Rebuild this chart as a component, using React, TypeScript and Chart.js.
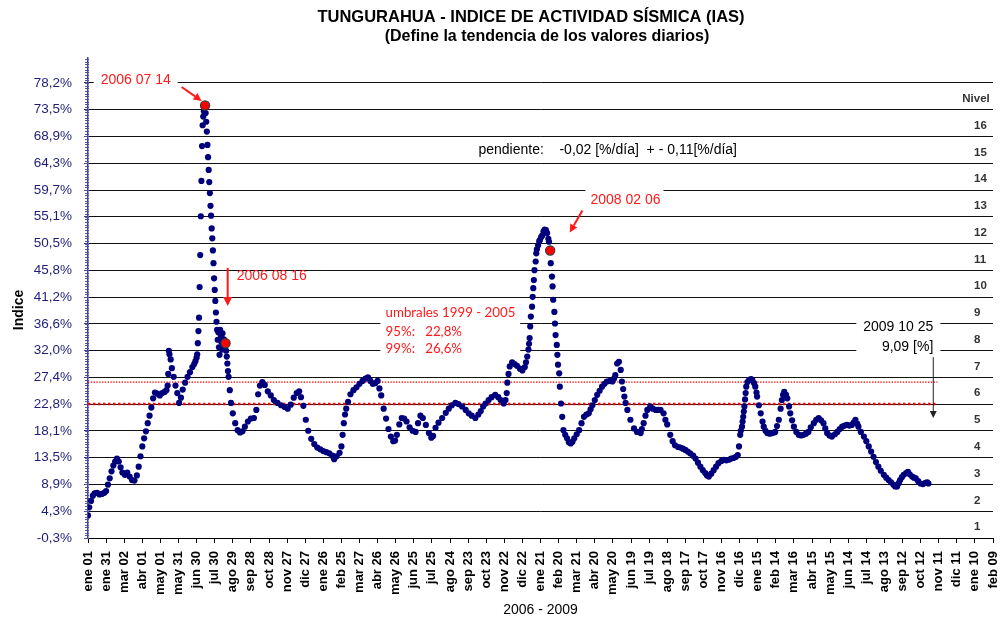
import React, { useEffect, useRef } from "react";
import { Chart, registerables } from "chart.js";

Chart.register(...registerables);

const FONT = "'Liberation Sans', Arial, sans-serif";

// ---------- axis labels ----------
const xTickLabels = [
  "ene 01", "ene 31", "mar 02", "abr 01", "may 01", "may 31", "jun 30", "jul 30", "ago 29", "sep 28",
  "oct 28", "nov 27", "dic 27", "ene 26", "feb 25", "mar 27", "abr 26", "may 26", "jun 25", "jul 25",
  "ago 24", "sep 23", "oct 23", "nov 22", "dic 22", "ene 21", "feb 20", "mar 21", "abr 20", "may 20",
  "jun 19", "jul 19", "ago 18", "sep 17", "oct 17", "nov 16", "dic 16", "ene 15", "feb 14", "mar 16",
  "abr 15", "may 15", "jun 14", "jul 14", "ago 13", "sep 12", "oct 12", "nov 11", "dic 11", "ene 10",
  "feb 09",
];
const xTickStepDays = 30;

const yTickLabels = [
  "-0,3%", "4,3%", "8,9%", "13,5%", "18,1%", "22,8%", "27,4%", "32,0%", "36,6%",
  "41,2%", "45,8%", "50,5%", "55,1%", "59,7%", "64,3%", "68,9%", "73,5%", "78,2%",
];
const yMin = -0.3;
const yTop = 78.2;
const yMax = 82.5;
const yStep = (yTop - yMin) / (yTickLabels.length - 1);

const levelLabels = ["1", "2", "3", "4", "5", "6", "7", "8", "9", "10", "11", "12", "13", "14", "15", "16"];

// ---------- IAS daily trend (day index from 2006-01-01, value %) ----------
const days2006 = [
  0, 2, 5, 8, 11, 15, 19, 23, 27, 30, 33, 36, 39, 42, 45, 48, 51, 54, 57, 61, 65, 69, 73, 77, 81, 84, 87, 90, 93, 96,
  99, 102, 105, 108, 111, 115, 119, 123, 127, 130, 132, 133, 134, 135, 137, 139, 142, 145, 148, 151, 154, 157, 161, 165,
  169, 173, 176, 178, 180, 181, 182, 183, 184, 185, 186, 187, 188, 189, 190, 191, 192, 193, 194, 195, 196, 197, 198, 199,
  200, 201, 202, 203, 204, 205, 206, 207, 208, 209, 210, 211, 212, 213, 214, 215, 216, 217, 218, 219, 220, 221, 222, 223,
  224, 225, 226, 228, 229, 230, 231, 232, 233, 235, 237, 240, 244, 248, 252, 256, 260, 265, 270, 275, 279, 282, 285, 289,
  293, 298, 303, 308, 314, 320, 326, 331, 336, 341, 346, 350, 353, 357, 361,
];
const values2006 = [
  3.6, 5.0, 6.1, 7.0, 7.4, 7.5, 7.2, 7.3, 7.5, 7.8, 8.9, 10.0, 11.2, 12.2, 12.9, 13.4, 12.9, 11.9, 11.0, 10.6, 11.0, 10.3, 9.7, 9.6, 10.5, 12.0, 13.8, 15.5, 16.9, 18.1,
  19.5, 20.8, 22.2, 23.8, 24.8, 24.6, 24.3, 24.7, 24.9, 25.2, 26.0, 28.0, 32.0, 31.4, 30.5, 29.0, 27.5, 26.0, 24.7, 23.0, 23.9, 25.3, 26.5, 27.5,
  28.3, 29.2, 29.7, 30.2, 30.8, 31.4, 33.3, 35.4, 37.7, 43.0, 48.5, 55.2, 61.3, 67.3, 70.9, 72.4, 73.3, 73.8, 74.3, 73.0, 71.5, 69.8, 67.5, 65.4,
  63.2, 61.1, 59.2, 57.0, 55.3, 53.1, 51.4, 49.3, 47.1, 44.5, 42.5, 40.6, 38.6, 37.0, 35.6, 33.9, 35.2, 32.6, 31.3, 35.6, 34.7, 33.5, 32.2, 35.0,
  34.0, 33.0, 33.9, 33.3, 32.0, 31.0, 29.8, 28.5, 27.5, 25.2, 23.0, 21.2, 19.5, 18.3, 17.9, 18.1, 18.9, 19.8, 20.3, 20.4, 21.8, 24.5, 26.0, 26.6,
  26.1, 25.0, 24.3, 23.5, 23.0, 22.6, 22.3, 22.0, 22.7, 23.9, 24.7, 25.0, 24.0, 22.5, 20.1,
];
const days2007 = [
  365, 370, 375, 380, 385, 390, 395, 400, 405, 408, 412, 417, 420, 422, 424, 426, 428, 431, 435, 440, 445, 450, 455, 460,
  464, 468, 472, 476, 480, 483, 486, 490, 494, 498, 502, 506, 509, 512, 516, 520, 524, 528, 533, 538, 543, 547, 551, 555,
  560, 565, 569, 572, 576, 581, 587, 593, 598, 603, 609, 614, 620, 626, 631, 636, 642, 647, 651, 655, 659, 664, 669, 675,
  680, 684, 689, 692, 694, 695, 697, 699, 703, 707, 711, 716, 720, 724, 726, 728,
];
const values2007 = [
  18.2, 16.8, 15.9, 15.3, 15.0, 14.7, 14.5, 14.3, 13.9, 13.3, 13.8, 14.4, 15.5, 17.5, 19.5, 21.0, 22.0, 23.2, 24.5, 25.2, 25.7, 26.3, 26.8, 27.2,
  27.4, 26.8, 26.3, 26.4, 26.8, 25.5, 24.3, 22.0, 20.3, 18.5, 17.2, 16.4, 16.5, 17.5, 19.3, 20.4, 20.3, 19.8, 18.8, 18.2, 18.0, 19.5, 20.8, 20.4,
  19.2, 17.8, 17.0, 17.3, 18.7, 19.6, 20.4, 21.3, 22.0, 22.6, 23.0, 22.8, 22.4, 21.8, 21.2, 20.8, 20.4, 21.0, 21.6, 22.4, 22.9, 23.5, 24.0, 24.4,
  24.0, 23.5, 22.9, 23.5, 24.7, 26.5, 28.0, 29.3, 30.0, 29.7, 29.4, 28.9, 28.6, 29.2, 30.0, 31.0,
];
const days2008 = [
  730, 731, 732, 733, 734, 736, 737, 738, 739, 740, 742, 743, 744, 746, 748, 749, 751, 753, 755, 757, 759, 761, 763, 764,
  766, 767, 769, 770, 771, 773, 774, 775, 777, 778, 779, 781, 782, 784, 786, 788, 791, 794, 797, 800, 803, 806, 810, 814,
  818, 822, 826, 830, 833, 836, 840, 844, 848, 852, 856, 860, 865, 869, 872, 874, 877, 880, 883, 885, 887, 889, 891, 894,
  899, 905, 910, 916, 918, 921, 924, 927, 932, 936, 941, 945, 949, 954, 957, 960, 965, 969, 973, 978, 982, 986, 990, 994,
  998, 1003, 1007, 1011, 1015, 1019, 1023, 1026, 1029, 1033, 1037, 1041, 1045, 1050, 1054, 1058, 1062, 1066, 1070, 1074,
  1077, 1079, 1081, 1082, 1084, 1085, 1086, 1087, 1088, 1089, 1090, 1091, 1093,
];
const values2008 = [
  32.2, 33.2, 34.2, 36.2, 37.9, 39.6, 41.3, 42.8, 44.2, 45.9, 47.4, 48.8, 49.5, 50.2, 50.9, 51.1, 51.6, 51.9, 52.6, 52.9, 52.8, 52.3, 51.3, 50.8,
  49.3, 47.1, 44.8, 43.1, 40.8, 38.7, 36.7, 34.7, 33.0, 31.3, 29.6, 28.1, 25.8, 22.9, 20.6, 18.3, 17.5, 16.9, 16.2, 16.0, 16.3, 16.9, 17.6, 18.3,
  19.5, 20.6, 21.0, 21.2, 21.9, 22.6, 23.5, 24.4, 25.1, 25.8, 26.3, 26.7, 26.8, 26.7, 27.2, 27.8, 29.8, 30.1, 28.7, 26.7, 25.4, 24.1, 23.0, 21.8,
  20.1, 18.6, 18.0, 17.8, 18.5, 19.5, 20.8, 21.8, 22.4, 22.0, 21.8, 21.8, 21.8, 21.2, 20.1, 19.3, 17.5, 16.4, 15.7, 15.4, 15.3, 15.1, 14.9, 14.6,
  14.3, 13.9, 13.4, 12.7, 12.0, 11.4, 10.9, 10.5, 10.3, 10.8, 11.4, 12.0, 12.6, 13.0, 13.2, 13.1, 13.2, 13.4, 13.5, 13.7,
  14.0, 15.5, 17.5, 18.2, 18.9, 19.8, 20.6, 21.5, 22.4, 23.6, 24.7, 25.8, 26.6,
];
const days2009 = [
  1096, 1099, 1101, 1104, 1106, 1108, 1109, 1112, 1115, 1118, 1120, 1123, 1126, 1130, 1134, 1137, 1139, 1142, 1145, 1148,
  1150, 1152, 1154, 1157, 1159, 1162, 1164, 1167, 1170, 1174, 1178, 1182, 1186, 1190, 1194, 1198, 1203, 1207, 1211, 1215,
  1219, 1222, 1225, 1229, 1233, 1238, 1242, 1246, 1250, 1254, 1258, 1262, 1266, 1269, 1272, 1275, 1277, 1281, 1286, 1290,
  1294, 1298, 1302, 1306, 1310, 1314, 1319, 1323, 1327, 1331, 1335, 1338, 1341, 1344, 1346, 1349, 1352, 1356, 1359, 1362,
  1366, 1369, 1372, 1376, 1380, 1384, 1388, 1391, 1393,
];
const values2009 = [
  27.0, 27.1, 27.0, 26.4, 25.8, 24.8, 24.1, 22.6, 21.2, 19.8, 18.9, 18.2, 17.8, 17.7, 17.8, 17.9, 18.0, 19.0, 20.1, 22.0,
  23.5, 24.4, 24.9, 24.4, 23.8, 22.4, 21.2, 20.0, 18.9, 18.0, 17.5, 17.4, 17.5, 17.7, 18.0, 18.8, 19.5, 20.1, 20.4, 20.0,
  19.5, 18.6, 17.8, 17.4, 17.2, 17.6, 18.0, 18.5, 18.9, 19.1, 19.2, 19.1, 19.2, 19.6, 20.1, 19.4, 18.9, 18.0, 17.2, 16.4,
  15.5, 14.6, 13.7, 12.8, 12.0, 11.3, 10.6, 10.1, 9.7, 9.3, 8.9, 8.6, 8.6, 9.2, 9.7, 10.2, 10.6, 10.9, 11.1, 10.7,
  10.3, 10.1, 10.0, 9.5, 9.1, 9.0, 9.2, 9.3, 9.1,
];

// highlighted dates: 2006 07 14, 2006 08 16, 2008 02 06
const highlightDays = [194, 228, 766];
const highlightValues = [74.3, 33.3, 49.3];

// thresholds 1999 - 2005
const thresholdDays = [0, 1408];
const umbral95 = 22.8;
const umbral99 = 26.6;

const allDays = [...days2006, ...days2007, ...days2008, ...days2009];
const allValues = [...values2006, ...values2007, ...values2008, ...values2009];

// ---------- annotation layout (in axis units: day, %) ----------
const RED = "#ff1a1a";
const whiteBoxes = [
  { d0: 9.4, d1: 148.6, v0: 80.2, v1: 77.1 },
  { d0: 824.5, d1: 953.8, v0: 59.9, v1: 56.1 },
  { d0: 484.6, d1: 716.4, v0: 39.9, v1: 30.9 },
  { d0: 1273.5, d1: 1412.7, v0: 38.0, v1: 31.1 },
];

function drawArrow(ctx: CanvasRenderingContext2D, x0: number, y0: number, x1: number, y1: number, color: string, width: number, head: number) {
  const ang = Math.atan2(y1 - y0, x1 - x0);
  const bx = x1 - Math.cos(ang) * head;
  const by = y1 - Math.sin(ang) * head;
  ctx.save();
  ctx.strokeStyle = color;
  ctx.fillStyle = color;
  ctx.lineWidth = width;
  ctx.beginPath();
  ctx.moveTo(x0, y0);
  ctx.lineTo(bx, by);
  ctx.stroke();
  const hw = head * 0.5;
  ctx.beginPath();
  ctx.moveTo(x1, y1);
  ctx.lineTo(bx + Math.sin(ang) * hw, by - Math.cos(ang) * hw);
  ctx.lineTo(bx - Math.sin(ang) * hw, by + Math.cos(ang) * hw);
  ctx.closePath();
  ctx.fill();
  ctx.restore();
}

const decorPlugin = {
  id: "iasDecor",
  beforeDatasetsDraw(chart: any) {
    const { ctx, chartArea } = chart;
    const xs = chart.scales.x;
    const ys = chart.scales.y;
    ctx.save();
    ctx.fillStyle = "#ffffff";
    for (const b of whiteBoxes) {
      const x0 = xs.getPixelForValue(b.d0);
      const x1 = xs.getPixelForValue(b.d1);
      const y0 = ys.getPixelForValue(b.v0);
      const y1 = ys.getPixelForValue(b.v1);
      ctx.fillRect(x0, y0, x1 - x0, y1 - y0);
    }
    // minor ticks on the value axis
    ctx.strokeStyle = "#5050b0";
    ctx.lineWidth = 1;
    const minor = yStep / 10;
    for (let i = 0; ; i++) {
      const v = yMin + i * minor;
      if (v > yMax + 1e-6) break;
      const py = Math.round(ys.getPixelForValue(v)) + 0.5;
      ctx.beginPath();
      ctx.moveTo(chartArea.left - 3, py);
      ctx.lineTo(chartArea.left + 1, py);
      ctx.stroke();
    }
    ctx.restore();
  },
  afterDatasetsDraw(chart: any) {
    const { ctx, chartArea } = chart;
    const xs = chart.scales.x;
    const ys = chart.scales.y;
    const X = (d: number) => xs.getPixelForValue(d);
    const Y = (v: number) => ys.getPixelForValue(v);
    ctx.save();
    ctx.textBaseline = "middle";

    // red date labels
    ctx.fillStyle = RED;
    ctx.textAlign = "left";
    ctx.font = `14px ${FONT}`;
    ctx.fillText("2006 07 14", X(21), Y(78.6));
    ctx.fillText("2006 08 16", X(246.4), Y(44.9));
    ctx.fillText("2008 02 06", X(832.8), Y(58.0));

    drawArrow(ctx, X(155.2), Y(77.5), X(188.4), Y(75.1), RED, 2, 8);
    drawArrow(ctx, X(231.5), Y(46.3), X(231.5), Y(39.7), RED, 2, 9);
    drawArrow(ctx, X(819.5), Y(56.2), X(798.5), Y(52.4), RED, 2, 8);

    // thresholds text
    ctx.font = `13.3px Lato, 'Open Sans', sans-serif`;
    ctx.fillText("umbrales 1999 - 2005", X(493.2), Y(38.5));
    ctx.fillText("95%:   22,8%", X(493.2), Y(35.3));
    ctx.fillText("99%:   26,6%", X(493.2), Y(32.4));

    // slope
    ctx.fillStyle = "#000";
    ctx.font = `14px ${FONT}`;
    ctx.fillText("pendiente:    -0,02 [%/día]  + - 0,11[%/día]", X(647.2), Y(66.6));

    // last value
    ctx.textAlign = "right";
    ctx.font = `14px ${FONT}`;
    ctx.fillText("2009 10 25", X(1401), Y(36.1));
    ctx.fillText("9,09 [%]", X(1401), Y(32.65));
    drawArrow(ctx, X(1401), Y(30.9), X(1401), Y(20.4), "#222", 1, 7);

    // level labels
    ctx.fillStyle = "#333";
    ctx.font = `bold 11.5px ${FONT}`;
    ctx.textAlign = "left";
    levelLabels.forEach((lab, i) => {
      ctx.fillText(lab, chartArea.right - 19, Y(yMin + (i + 0.5) * yStep) + 2.5);
    });
    ctx.textAlign = "center";
    ctx.fillText("Nivel", chartArea.right - 17, Y(yMin + 16.5 * yStep) + 2.5);

    ctx.restore();
  },
  afterDraw(chart: any) {
    const { ctx } = chart;
    ctx.save();
    ctx.fillStyle = "#000";
    ctx.textAlign = "center";
    ctx.textBaseline = "middle";
    ctx.font = `bold 16.5px ${FONT}`;
    ctx.fillText("TUNGURAHUA - INDICE DE ACTIVIDAD SÍSMICA (IAS)", 531, 17);
    ctx.font = `bold 16px ${FONT}`;
    ctx.fillText("(Define la tendencia de los valores diarios)", 547, 37);
    ctx.translate(19, 310);
    ctx.rotate(-Math.PI / 2);
    ctx.font = `bold 14px ${FONT}`;
    ctx.fillText("Indice", 0, 0);
    ctx.restore();
  },
};

export default function App() {
  const ref = useRef<HTMLCanvasElement>(null);

  useEffect(() => {
    const canvas = ref.current;
    if (!canvas) return;
    const chart = new Chart(canvas, {
      type: "scatter",
      data: {
        datasets: [
          {
            label: "pico",
            data: highlightDays.map((d, i) => ({ x: d, y: highlightValues[i] })),
            pointRadius: 4.6,
            pointBackgroundColor: "#ff0000",
            pointBorderColor: "#3a3a3a",
            pointBorderWidth: 1.2,
            showLine: false,
            order: 0,
          },
          {
            label: "IAS",
            data: allDays.map((d, i) => ({ x: d, y: allValues[i] })),
            pointRadius: 3.1,
            pointBackgroundColor: "#00007c",
            pointBorderColor: "#00007c",
            pointBorderWidth: 0,
            showLine: false,
            order: 1,
          },
          {
            label: "95%",
            data: thresholdDays.map((d) => ({ x: d, y: umbral95 })),
            showLine: true,
            borderColor: "#ff0000",
            borderWidth: 2.5,
            borderDash: [2.5, 2.5],
            pointRadius: 0,
            order: 2,
          },
          {
            label: "99%",
            data: thresholdDays.map((d) => ({ x: d, y: umbral99 })),
            showLine: true,
            borderColor: "#ff0000",
            borderWidth: 1.2,
            borderDash: [1.4, 1.4],
            pointRadius: 0,
            order: 3,
          },
        ],
      },
      options: {
        animation: false,
        responsive: false,
        devicePixelRatio: 1,
        events: [],
        layout: { padding: { top: 58, right: 7, bottom: 0, left: 0 } },
        plugins: {
          legend: { display: false },
          tooltip: { enabled: false },
          title: { display: false },
        },
        scales: {
          x: {
            type: "linear",
            min: 0,
            max: (xTickLabels.length - 1) * xTickStepDays,
            afterBuildTicks: (s: any) => {
              s.ticks = xTickLabels.map((_, i) => ({ value: i * xTickStepDays }));
            },
            afterFit: (s: any) => {
              s.height = 84;
              s.paddingLeft = 0;
              s.paddingRight = 0;
            },
            ticks: {
              autoSkip: false,
              minRotation: 90,
              maxRotation: 90,
              padding: 8,
              color: "#000",
              font: { family: FONT, size: 13, weight: "bold" },
              callback: (_v: any, i: number) => xTickLabels[i],
            },
            grid: { drawOnChartArea: false, drawTicks: true, tickLength: 5, tickColor: "#000" },
            border: { color: "#000", width: 1 },
            title: {
              display: true,
              text: "2006 - 2009",
              color: "#000",
              font: { family: FONT, size: 14 },
              padding: { top: 0, bottom: 3 },
            },
          },
          y: {
            type: "linear",
            min: yMin,
            max: yMax,
            afterBuildTicks: (s: any) => {
              s.ticks = yTickLabels.map((_, i) => ({ value: yMin + i * yStep }));
            },
            afterFit: (s: any) => {
              s.width = 88;
              s.paddingTop = 0;
              s.paddingBottom = 0;
            },
            ticks: {
              padding: 12,
              color: "#1e1e78",
              font: { family: FONT, size: 13.5 },
              callback: (_v: any, i: number) => yTickLabels[i],
            },
            grid: { color: "#111", lineWidth: 1, drawTicks: true, tickLength: 4, tickColor: "#3c3ca8" },
            border: { color: "#3c3ca8", width: 1.5 },
          },
        },
      },
      plugins: [decorPlugin],
    } as any);
    return () => chart.destroy();
  }, []);

  return (
    <div style={{ position: "absolute", left: 0, top: 0, width: 1000, height: 622, background: "#fff" }}>
      <canvas ref={ref} width={1000} height={622} style={{ display: "block", width: 1000, height: 622 }} />
    </div>
  );
}
